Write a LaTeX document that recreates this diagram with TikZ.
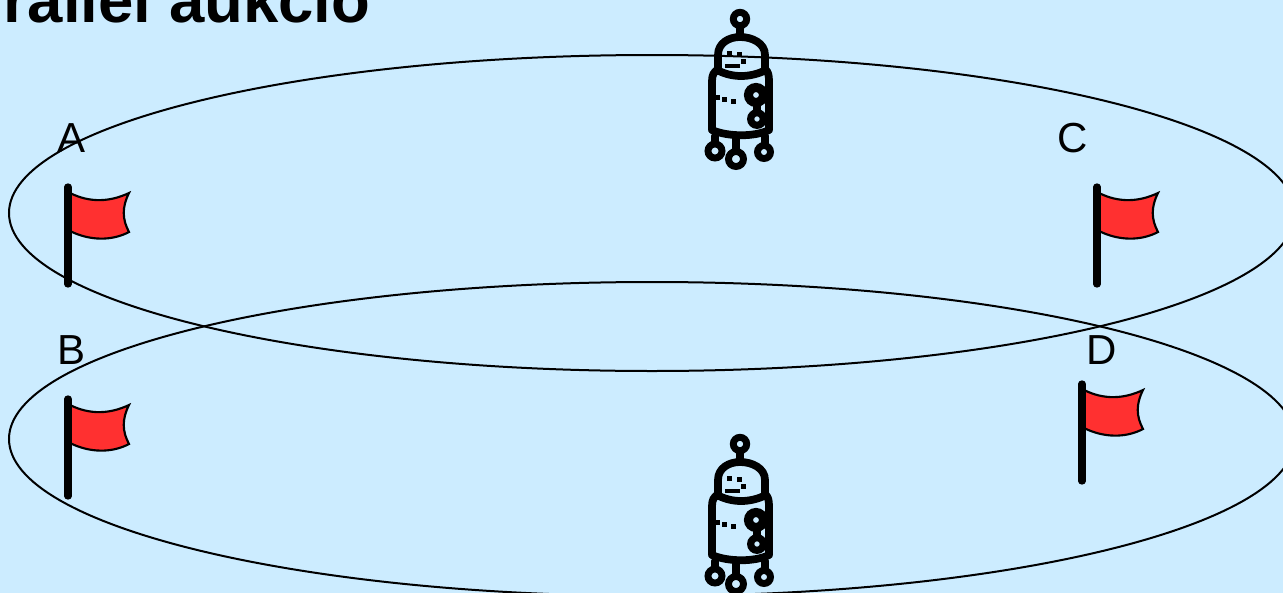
\documentclass[tikz,border=0pt]{standalone}
\usepackage{fontspec}
\setmainfont{Liberation Sans}
\usepackage{xcolor}
\usetikzlibrary{positioning}
\definecolor{slideblue}{HTML}{CCECFF}
\definecolor{flagred}{HTML}{FF3030}

\begin{document}
\begin{tikzpicture}[
  x=0.75pt, y=-0.75pt,
  ring/.style={draw=black, line width=1.5pt},
  lbl/.style={font=\fontsize{31.5}{31.5}\selectfont, inner sep=0pt},
  ttl/.style={font=\fontsize{47.6}{47.6}\selectfont\bfseries, anchor=base west, inner sep=0pt},
  botline/.style={draw=black, line width=5.8pt, line cap=round, line join=round},
  botring/.style={draw=black, line width=5.2pt},
  botdot/.style={fill=black},
  flagpole/.style={draw=black, line width=5.5pt, line cap=round},
  flagcloth/.style={draw=black, line width=1.6pt, fill=flagred},
  pics/flagpic/.style={code={
    \draw[flagcloth] (2,6) .. controls (22,16) and (42,15) .. (61,6)
      .. controls (54,20) and (54,32) .. (61,45)
      .. controls (44,54) and (22,54) .. (2,44) -- cycle;
    \draw[flagpole] (0,0) -- (0,97);
  }},
  pics/botpic/.style={code={
    % antenna and head
    \draw[botring] (0,0) circle (6.7);
    \draw[botline] (0,9) -- (0,17);
    \draw[botline] (-22,50) -- (-22,36) .. controls (-22,24) and (-11,18) .. (0,18)
      .. controls (12,18) and (25,24) .. (25,36) -- (25,50);
    % body
    \draw[botline] (-28,111) -- (-28,62) .. controls (-28,56) and (-26,53) .. (-23,51)
      .. controls (-8,59) and (10,59) .. (26,51) .. controls (28,53) and (29,56) .. (29,62)
      -- (29,111) .. controls (15,118) and (-12,118) .. (-28,111);
    % face and side marks
    \foreach \px/\py in {-11/34, -1/35, 3/42, -16/80, -7/82, -23/78}
      \fill[botdot] (\px-2.5,\py-2.5) rectangle (\px+2.5,\py+2.5);
    \draw[black, line width=2.8pt] (-15,47) -- (0,47);
    % knobs
    \draw[black, line width=6.8pt] (16,76) circle (7.5);
    \draw[black, line width=5.4pt] (17,100) circle (6.3);
    \draw[botline] (17,85) -- (17,92);
    % feet
    \draw[botring] (-25,132) circle (7);
    \draw[botring] (-4,140) circle (7.5);
    \draw[botring] (24,133) circle (6.5);
    \draw[botline] (-25,117) -- (-25,123);
    \draw[botline] (-4,117) -- (-4,131);
    \draw[botline] (25,117) -- (25,125);
  }}]
\fill[slideblue] (0,0) rectangle (1283,593);
\useasboundingbox (0,0) rectangle (1283,593);
\clip (0,0) rectangle (1283,593);
\node[ttl] (title) at (3,22) {rallel aukció};
\draw[ring] (652,213) ellipse [x radius=643, y radius=158];
\draw[ring] (652,439) ellipse [x radius=643, y radius=157];
\pic (flaga) at (68,187) {flagpic};
\pic (flagb) at (68,399) {flagpic};
\pic (flagc) at (1097,187) {flagpic};
\pic (flagd) at (1082,384) {flagpic};
\node[lbl] (a) at (72,138) {A};
\node[lbl] (b) at (71.5,350) {B};
\node[lbl] (c) at (1072.5,138) {C};
\node[lbl] (d) at (1102,350) {D};
\pic (bottop) at (740,19) {botpic};
\pic (botlow) at (740,444) {botpic};
\end{tikzpicture}
\end{document}
